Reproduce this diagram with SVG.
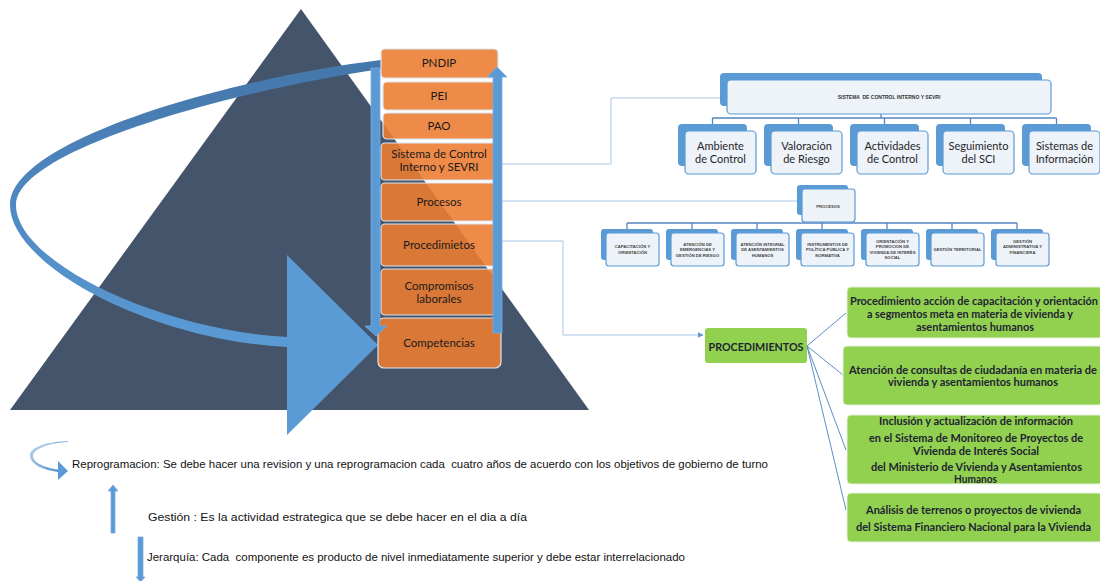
<svg xmlns="http://www.w3.org/2000/svg" width="1100" height="581" viewBox="0 0 1100 581">
<defs>
<style>
.ob{fill:#ED7D31;fill-opacity:0.89;stroke:#DCE6F2;stroke-width:1.2}
.ot{font-family:Lato,"Open Sans",sans-serif;font-size:11.5px;fill:#1a1a1a;text-anchor:middle}
.bk{fill:#5B9BD5}
.fr{fill:#EEF3FA;stroke:#5B9BD5;stroke-width:1.2}
.tt{font-family:Lato,"Open Sans",sans-serif;font-size:11px;fill:#1f1f1f;text-anchor:middle}
.tiny{font-family:"Liberation Sans",Arial,sans-serif;font-size:4.2px;font-weight:bold;fill:#444;text-anchor:middle}
.gb{fill:#92D050;stroke:#E6F2D8;stroke-width:1}
.gt{font-family:Lato,"Open Sans",sans-serif;font-size:11px;font-weight:bold;fill:#1E2433;text-anchor:middle}
.lg{font-family:"Liberation Sans",Arial,sans-serif;font-size:10.5px;fill:#111;white-space:pre}
.cl{fill:none;stroke:#A9C8EA;stroke-width:1}
.tl{fill:none;stroke:#5585C0;stroke-width:1.3}
.fl{fill:none;stroke:#5B8FC7;stroke-width:1}
.ar{fill:#5B9BD5;stroke:#7FAADB;stroke-width:0.8}
</style>
<linearGradient id="band" x1="0" y1="0" x2="0" y2="1">
<stop offset="0" stop-color="#4477AA"/>
<stop offset="0.5" stop-color="#4F88C2"/>
<stop offset="1" stop-color="#5B9BD5"/>
</linearGradient>
<linearGradient id="small" x1="0" y1="0" x2="1" y2="1">
<stop offset="0" stop-color="#C5DAF0"/>
<stop offset="1" stop-color="#4A86C5"/>
</linearGradient>
<marker id="ah" viewBox="0 0 10 10" refX="9" refY="5" markerWidth="6" markerHeight="6" orient="auto" markerUnits="userSpaceOnUse">
<path d="M0,0 L10,5 L0,10 Z" fill="#5B9BD5"/>
</marker>
</defs>

<g id="pyramid">
<polygon points="301,9 10,410 589,410" fill="#44546A"/>
</g>

<g id="cycle-arrow">
<path d="M381,60 C231,78 10,140 10,205 C10,265 150,340 287,347 L287,337 C160,330 16,262 16,205 C16,150 235,90 381,69 Z" fill="url(#band)"/>
<polygon points="287,255 378,345 287,435" fill="#5B9BD5"/>
</g>

<g id="stack">
<g id="n-pndip"><rect class="ob" x="381" y="49" width="117" height="29" rx="4"/><text class="ot" x="439" y="67">PNDIP</text></g>
<g id="n-pei"><rect class="ob" x="383" y="82" width="112" height="28" rx="4"/><text class="ot" x="439" y="100">PEI</text></g>
<g id="n-pao"><rect class="ob" x="383" y="113" width="112" height="26" rx="4"/><text class="ot" x="439" y="130">PAO</text></g>
<g id="n-sci"><rect class="ob" x="381" y="143" width="116" height="37" rx="4"/><text class="ot" x="439" y="158">Sistema de Control</text><text class="ot" x="439" y="171">Interno y SEVRI</text></g>
<g id="n-procesos"><rect class="ob" x="381" y="183" width="116" height="38" rx="4"/><text class="ot" x="439" y="206">Procesos</text></g>
<g id="n-procedimietos"><rect class="ob" x="381" y="224" width="116" height="42" rx="4"/><text class="ot" x="439" y="249">Procedimietos</text></g>
<g id="n-compromisos"><rect class="ob" x="381" y="269" width="116" height="46" rx="4"/><text class="ot" x="439" y="290">Compromisos</text><text class="ot" x="439" y="303">laborales</text></g>
<g id="n-competencias"><rect class="ob" x="378" y="318" width="123" height="50" rx="6"/><text class="ot" x="439" y="347">Competencias</text></g>
</g>

<g id="vertical-arrows">
<polygon class="ar" points="371,68 380,68 380,326 387,326 376,336 365,326 371,326"/>
<polygon class="ar" points="493,333 502,333 502,77 507,77 497,67 487,77 493,77"/>
</g>

<g id="connectors">
<polyline class="cl" points="502,164 611,164 611,98 720,98"/>
<line class="cl" x1="502" y1="201" x2="797" y2="201"/>
<polyline class="cl" points="502,241 563,241 563,335 703,335" marker-end="url(#ah)"/>
<path class="tl" d="M881,114 V118 M712.5,118 H1056.5 M712.5,118 V124 M798.5,118 V124 M884.5,118 V124 M970.5,118 V124 M1056.5,118 V124"/>
<path class="tl" d="M822,215 V223 M627,223 H1017 M627,223 V229 M692,223 V229 M757,223 V229 M822,223 V229 M887,223 V229 M952,223 V229 M1017,223 V229"/>
<path class="fl" d="M807,346 L846,313 M807,346 L843,375 M807,346 L846,450 M807,346 L846,510"/>
</g>

<g id="n-sistema">
<rect class="bk" x="720" y="73" width="322" height="33" rx="4"/>
<rect class="fr" x="727" y="80" width="324" height="34" rx="4"/>
<text x="889" y="99" font-family="'Liberation Sans',Arial,sans-serif" font-size="5px" font-weight="bold" fill="#333" text-anchor="middle" style="white-space:pre">SISTEMA  DE CONTROL INTERNO Y SEVRI</text>
</g>
<g id="n-ambiente"><rect class="bk" x="678" y="124" width="69" height="42" rx="4"/><rect class="fr" x="685" y="131" width="71" height="43" rx="4"/><text class="tt" x="720.5" y="150">Ambiente</text><text class="tt" x="720.5" y="163">de Control</text></g>
<g id="n-valoracion"><rect class="bk" x="764" y="124" width="69" height="42" rx="4"/><rect class="fr" x="771" y="131" width="71" height="43" rx="4"/><text class="tt" x="806.5" y="150">Valoración</text><text class="tt" x="806.5" y="163">de Riesgo</text></g>
<g id="n-actividades"><rect class="bk" x="850" y="124" width="69" height="42" rx="4"/><rect class="fr" x="857" y="131" width="71" height="43" rx="4"/><text class="tt" x="892.5" y="150">Actividades</text><text class="tt" x="892.5" y="163">de Control</text></g>
<g id="n-seguimiento"><rect class="bk" x="936" y="124" width="69" height="42" rx="4"/><rect class="fr" x="943" y="131" width="71" height="43" rx="4"/><text class="tt" x="978.5" y="150">Seguimiento</text><text class="tt" x="978.5" y="163">del SCI</text></g>
<g id="n-sistemas-info"><rect class="bk" x="1022" y="124" width="69" height="42" rx="4"/><rect class="fr" x="1029" y="131" width="71" height="43" rx="4"/><text class="tt" x="1064.5" y="150">Sistemas de</text><text class="tt" x="1064.5" y="163">Información</text></g>

<g id="n-procesos-tree">
<rect class="bk" x="797" y="185" width="51" height="30" rx="3"/>
<rect class="fr" x="802" y="189" width="53" height="33" rx="3"/>
<text class="tiny" x="828" y="207.5">PROCESOS</text>
</g>
<g id="p1"><rect class="bk" x="601" y="229" width="52" height="31" rx="3"/><rect class="fr" x="606" y="233" width="53" height="33" rx="3"/><text class="tiny" x="632.5" y="248">CAPACITACIÓN Y</text><text class="tiny" x="632.5" y="253.5">ORIENTACIÓN</text></g>
<g id="p2"><rect class="bk" x="666" y="229" width="52" height="31" rx="3"/><rect class="fr" x="671" y="233" width="53" height="33" rx="3"/><text class="tiny" x="697.5" y="245.5">ATENCIÓN DE</text><text class="tiny" x="697.5" y="251">EMERGENCIAS Y</text><text class="tiny" x="697.5" y="256.5">GESTIÓN DE RIESGO</text></g>
<g id="p3"><rect class="bk" x="731" y="229" width="52" height="31" rx="3"/><rect class="fr" x="736" y="233" width="53" height="33" rx="3"/><text class="tiny" x="762.5" y="245.5">ATENCIÓN INTEGRAL</text><text class="tiny" x="762.5" y="251">DE ASENTAMIENTOS</text><text class="tiny" x="762.5" y="256.5">HUMANOS</text></g>
<g id="p4"><rect class="bk" x="796" y="229" width="52" height="31" rx="3"/><rect class="fr" x="801" y="233" width="53" height="33" rx="3"/><text class="tiny" x="827.5" y="245.5">INSTRUMENTOS DE</text><text class="tiny" x="827.5" y="251">POLÍTICA PÚBLICA Y</text><text class="tiny" x="827.5" y="256.5">NORMATIVA</text></g>
<g id="p5"><rect class="bk" x="861" y="229" width="52" height="31" rx="3"/><rect class="fr" x="866" y="233" width="53" height="33" rx="3"/><text class="tiny" x="892.5" y="242.5">ORIENTACIÓN Y</text><text class="tiny" x="892.5" y="248">PROMOCION DE</text><text class="tiny" x="892.5" y="253.5">VIVIENDA DE INTERÉS</text><text class="tiny" x="892.5" y="259">SOCIAL</text></g>
<g id="p6"><rect class="bk" x="926" y="229" width="52" height="31" rx="3"/><rect class="fr" x="931" y="233" width="53" height="33" rx="3"/><text class="tiny" x="957.5" y="251">GESTIÓN TERRITORIAL</text></g>
<g id="p7"><rect class="bk" x="991" y="229" width="52" height="31" rx="3"/><rect class="fr" x="996" y="233" width="53" height="33" rx="3"/><text class="tiny" x="1022.5" y="242.5">GESTIÓN</text><text class="tiny" x="1022.5" y="248">ADMINISTRATIVA Y</text><text class="tiny" x="1022.5" y="253.5">FINANCIERA</text></g>

<g id="n-procedimientos">
<rect x="705" y="328" width="102" height="35" rx="3" fill="#92D050"/>
<text class="gt" x="756" y="351" fill="#1F3864" textLength="95" lengthAdjust="spacingAndGlyphs">PROCEDIMIENTOS</text>
</g>
<g id="g1"><rect class="gb" x="847" y="287" width="256" height="51" rx="4"/>
<text class="gt" x="974" y="305" textLength="248" lengthAdjust="spacingAndGlyphs">Procedimiento acción de capacitación y orientación</text>
<text class="gt" x="970" y="318" textLength="206" lengthAdjust="spacingAndGlyphs">a segmentos meta en materia de vivienda y</text>
<text class="gt" x="975" y="331" textLength="118" lengthAdjust="spacingAndGlyphs">asentamientos humanos</text></g>
<g id="g2"><rect class="gb" x="843" y="346" width="260" height="59" rx="4"/>
<text class="gt" x="973" y="374" textLength="248" lengthAdjust="spacingAndGlyphs">Atención de consultas de ciudadanía en materia de</text>
<text class="gt" x="973" y="386" textLength="170" lengthAdjust="spacingAndGlyphs">vivienda y asentamientos humanos</text></g>
<g id="g3"><rect class="gb" x="847" y="415" width="256" height="69" rx="4"/>
<text class="gt" x="976" y="425" textLength="194" lengthAdjust="spacingAndGlyphs">Inclusión y actualización  de información</text>
<text class="gt" x="976" y="442" textLength="214" lengthAdjust="spacingAndGlyphs">en el Sistema de Monitoreo de Proyectos de</text>
<text class="gt" x="976" y="455" textLength="126" lengthAdjust="spacingAndGlyphs">Vivienda de Interés Social</text>
<text class="gt" x="976.5" y="471" textLength="211" lengthAdjust="spacingAndGlyphs">del Ministerio de Vivienda y Asentamientos</text>
<text class="gt" x="975.5" y="483" textLength="43" lengthAdjust="spacingAndGlyphs">Humanos</text></g>
<g id="g4"><rect class="gb" x="847" y="493" width="256" height="49" rx="4"/>
<text class="gt" x="973.5" y="514" textLength="215" lengthAdjust="spacingAndGlyphs">Análisis de terrenos o proyectos de vivienda</text>
<text class="gt" x="973.5" y="531" textLength="235" lengthAdjust="spacingAndGlyphs">del Sistema Financiero Nacional para la Vivienda</text></g>

<g id="legend">
<path d="M68,441 C44,442 29,448 30,456 C31,465 44,470 58,472 L58,469.5 C46,468 33,463 33,456 C33,450 46,443 68,442 Z" fill="url(#small)"/>
<polygon points="58,461 68,471 58,480" fill="#5B9BD5"/>
<text class="lg" x="72" y="468" textLength="696" lengthAdjust="spacingAndGlyphs">Reprogramacion: Se debe hacer una revision y una reprogramacion cada  cuatro años de acuerdo con los objetivos de gobierno de turno</text>
<polygon class="ar" points="111,533 115,533 115,491 118,491 113,485 108,491 111,491"/>
<text class="lg" x="148" y="521" textLength="379" lengthAdjust="spacingAndGlyphs">Gestión : Es la actividad estrategica que se debe hacer en el dia a día</text>
<polygon class="ar" points="138,537 143,537 143,577 145,577 140.5,582 136,577 138,577"/>
<text class="lg" x="147" y="561" textLength="538" lengthAdjust="spacingAndGlyphs">Jerarquía: Cada  componente es producto de nivel inmediatamente superior y debe estar interrelacionado</text>
</g>
</svg>
